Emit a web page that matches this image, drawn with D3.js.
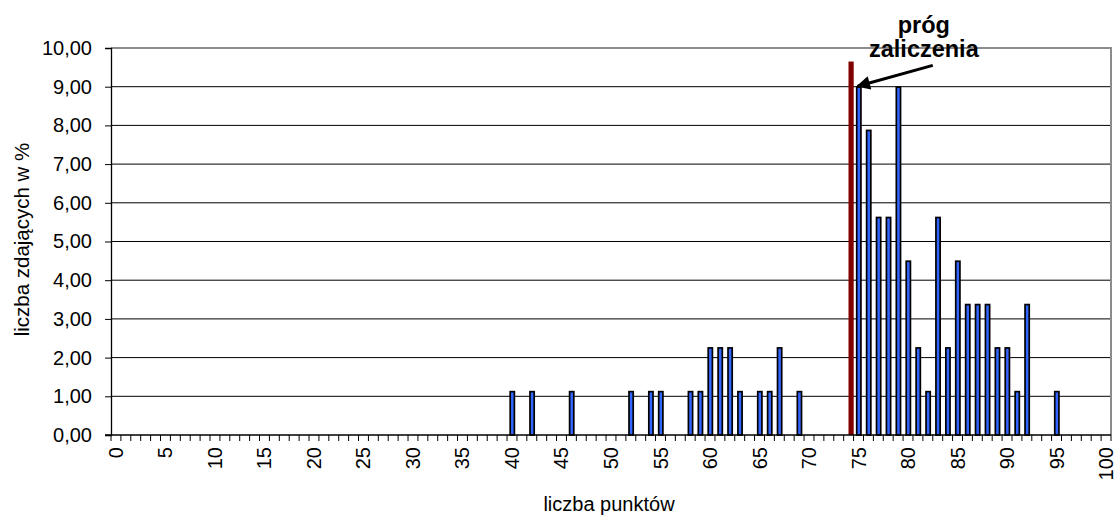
<!DOCTYPE html>
<html><head><meta charset="utf-8">
<script src="https://cdn.jsdelivr.net/npm/d3@7"></script>
<style>body{margin:0;background:#fff}svg{display:block;font-family:"Liberation Sans",Arial,sans-serif}</style>
</head><body>
<svg id="c" width="1116" height="518"></svg>
<script>
// ---- data ----
const scorePoints = [40,42,46,52,54,55,58,59,60,61,62,63,65,66,67,69,75,76,77,78,79,80,81,82,83,84,85,86,87,88,89,90,91,92,95];
const studentShare = [1.12,1.12,1.12,1.12,1.12,1.12,1.12,1.12,2.25,2.25,2.25,1.12,1.12,1.12,2.25,1.12,8.99,7.87,5.62,5.62,8.99,4.49,2.25,1.12,5.62,2.25,4.49,3.37,3.37,3.37,2.25,2.25,1.12,3.37,1.12];
const thresholdPoint = [74];
const thresholdValue = [9.65];
const yTicks = [0,1,2,3,4,5,6,7,8,9,10];
const xTickLabels = [0,5,10,15,20,25,30,35,40,45,50,55,60,65,70,75,80,85,90,95,100];
const xTitle = "liczba punktów";
const yTitle = "liczba zdających w %";
const noteLines = ["próg", "zaliczenia"];

// ---- layout ----
const L = 111, R = 1111, T = 48, B = 435;
const svg = d3.select("#c");
const categories = d3.range(0, 101);
const x = d3.scaleBand().domain(categories).range([L, R]).padding(0);
const xl = d3.scaleLinear().domain([0, 101]).range([L, R]);
const y = d3.scaleLinear().domain([0, 10]).range([B, T]);

// gridlines
svg.append("g").selectAll("line").data(yTicks.filter(v => v > 0 && v < 10)).join("line")
  .attr("x1", L).attr("x2", R).attr("y1", d => y(d)).attr("y2", d => y(d))
  .attr("stroke", "#000").attr("stroke-width", 1);

// plot border (top & right) gray
svg.append("path").attr("d", `M${L},${y(10)}H${R}V${B}`).attr("fill", "none")
  .attr("stroke", "#8c8c8c").attr("stroke-width", 2);

// threshold bar
const bw = 4.2;
svg.append("g").selectAll("rect").data(thresholdPoint).join("rect")
  .attr("x", (d) => x(d) + x.bandwidth() * 0.75 - 2.6)
  .attr("width", 5.2)
  .attr("y", (d, i) => y(thresholdValue[i]))
  .attr("height", (d, i) => B - y(thresholdValue[i]))
  .attr("fill", "#800000");

// bars
svg.append("g").selectAll("rect").data(scorePoints).join("rect")
  .attr("x", d => x(d) + x.bandwidth() / 2 - bw / 2 + 0.3)
  .attr("width", bw)
  .attr("y", (d, i) => y(studentShare[i]))
  .attr("height", (d, i) => B - y(studentShare[i]))
  .attr("fill", "#3366ff").attr("stroke", "#000").attr("stroke-width", 1.7);

// y axis
const yAxis = svg.append("g").attr("transform", `translate(${L},0)`)
  .call(d3.axisLeft(y).tickValues(yTicks).tickSize(6).tickPadding(13)
    .tickFormat(d => d3.format(".2f")(d).replace(".", ",")));
yAxis.select(".domain").attr("stroke", "#000").attr("stroke-width", 1.3);
yAxis.selectAll(".tick line").attr("stroke", "#000");
yAxis.selectAll("text").attr("font-size", 20).attr("fill", "#000")
  .attr("font-family", "Liberation Sans, Arial, sans-serif");

// x axis: boundary ticks
svg.append("g").selectAll("line").data(d3.range(0, 102)).join("line")
  .attr("x1", d => xl(d)).attr("x2", d => xl(d))
  .attr("y1", B).attr("y2", B + 6).attr("stroke", "#000").attr("stroke-width", 1);
svg.append("line").attr("x1", L - 6).attr("x2", R).attr("y1", B).attr("y2", B)
  .attr("stroke", "#000").attr("stroke-width", 1.3);

// x labels
const xAxis = svg.append("g").attr("transform", `translate(0,${B})`)
  .call(d3.axisBottom(x).tickValues(xTickLabels).tickSize(0));
xAxis.select(".domain").remove();
xAxis.selectAll("text")
  .attr("font-size", 20).attr("fill", "#000")
  .attr("font-family", "Liberation Sans, Arial, sans-serif")
  .attr("text-anchor", "end")
  .attr("transform", "rotate(-90)")
  .attr("x", -12).attr("y", 0).attr("dy", "0.35em");

// axis titles
svg.append("text").attr("x", (L + R) / 2 - 2).attr("y", 511)
  .attr("text-anchor", "middle").attr("font-size", 20).text(xTitle);
svg.append("text").attr("transform", `translate(29,${(T + B) / 2 - 2}) rotate(-90)`)
  .attr("text-anchor", "middle").attr("font-size", 20.5).text(yTitle);

// annotation
const noteX = xl(82.1);
svg.append("g").selectAll("text").data(noteLines).join("text")
  .attr("x", noteX).attr("y", (d, i) => y(10.4) + i * 24)
  .attr("text-anchor", "middle").attr("font-weight", "bold").attr("font-size", 23.5)
  .text(d => d);

svg.append("defs").append("marker").attr("id", "ah")
  .attr("viewBox", "0 0 10 10").attr("refX", 9).attr("refY", 5)
  .attr("markerWidth", 6).attr("markerHeight", 4.6).attr("markerUnits", "strokeWidth")
  .attr("orient", "auto")
  .append("path").attr("d", "M0,0L10,5L0,10Z").attr("fill", "#000");
svg.append("line")
  .attr("x1", xl(83.0)).attr("y1", y(9.55))
  .attr("x2", xl(75.4)).attr("y2", y(9.0) - 0.5)
  .attr("stroke", "#000").attr("stroke-width", 3).attr("marker-end", "url(#ah)");
</script>
</body></html>
